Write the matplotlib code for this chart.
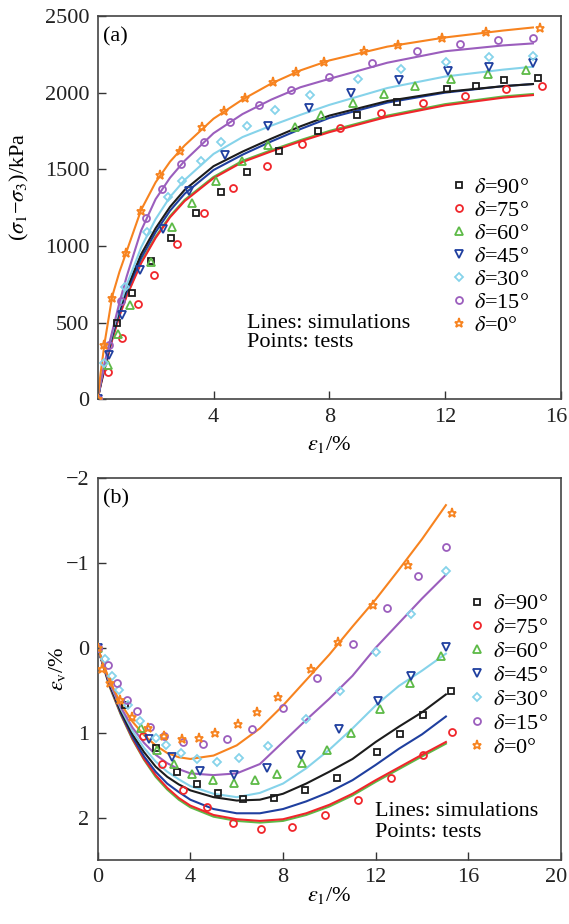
import matplotlib
matplotlib.use("Agg")
import matplotlib.pyplot as plt
import matplotlib.transforms as mtransforms

plt.rcParams['font.family'] = ['Liberation Serif', 'DejaVu Serif']
plt.rcParams['mathtext.fontset'] = 'stix'
plt.rcParams['axes.unicode_minus'] = True

legend_labels = [r'$\delta$=90°', r'$\delta$=75°', r'$\delta$=60°', r'$\delta$=45°',
                 r'$\delta$=30°', r'$\delta$=15°', r'$\delta$=0°']
colors = ['#1c1c1c', '#f0262b', '#5dba47', '#1f3f9f', '#86d3ea', '#9b5ebd', '#f7831f']
markers = ['s', 'o', '^', 'v', 'D', 'o', '*']
msizes = [4.2, 5.0, 5.2, 5.2, 4.2, 5.0, 6.5]

# ---- (a) deviatoric stress: tests ----
x90_a = [0, 0.68, 1.18, 1.83, 2.52, 3.39, 4.25, 5.17, 6.27, 7.62, 8.94, 10.32, 12.05, 13.06, 14.03, 15.21]
y90_a = [0, 494, 690, 900, 1051, 1212, 1353, 1484, 1618, 1751, 1854, 1941, 2021, 2045, 2082, 2097]
x75_a = [0, 0.37, 0.83, 1.38, 1.95, 2.73, 3.68, 4.68, 5.83, 7.04, 8.37, 9.8, 11.22, 12.68, 14.09, 15.33]
y75_a = [0, 180, 402, 620, 811, 1012, 1214, 1375, 1523, 1662, 1771, 1864, 1934, 1980, 2021, 2043]
x60_a = [0, 0.34, 0.69, 1.11, 1.83, 2.55, 3.27, 4.07, 4.97, 5.89, 6.81, 7.72, 8.8, 9.89, 10.94, 12.2, 13.49, 14.8]
y60_a = [0, 222, 424, 616, 898, 1125, 1283, 1425, 1555, 1658, 1777, 1857, 1934, 1991, 2041, 2087, 2121, 2147]
x45_a = [0, 0.38, 0.84, 1.45, 2.24, 3.15, 4.41, 5.87, 7.31, 8.75, 10.42, 12.1, 13.51, 15.04]
y45_a = [0, 288, 552, 842, 1107, 1360, 1595, 1780, 1901, 1999, 2082, 2143, 2169, 2191]
x30_a = [0, 0.23, 0.95, 1.7, 2.44, 2.92, 3.57, 4.25, 5.14, 6.12, 7.33, 9.0, 10.47, 12.03, 13.51, 15.02]
y30_a = [0, 239, 733, 1090, 1316, 1422, 1555, 1675, 1779, 1884, 1984, 2089, 2151, 2202, 2230, 2241]
x15_a = [0, 0.4, 0.8, 1.66, 2.21, 2.88, 3.67, 4.57, 5.58, 6.66, 8.0, 9.46, 11.04, 12.51, 13.81, 15.02]
y15_a = [0, 354, 640, 1179, 1373, 1534, 1681, 1806, 1919, 2017, 2104, 2195, 2271, 2315, 2343, 2354]
x0_a = [0, 0.23, 0.5, 0.98, 1.48, 2.15, 2.84, 3.6, 4.36, 5.09, 6.06, 6.85, 7.83, 9.2, 10.38, 11.9, 13.4, 15.27]
y0_a = [0, 352, 663, 953, 1229, 1462, 1621, 1773, 1882, 1968, 2071, 2136, 2202, 2271, 2311, 2354, 2398, 2419]

# ---- (a) simulations ----
sim_x_a = [0, 0.1, 0.25, 0.5, 0.75, 1, 1.5, 2, 2.5, 3, 4, 5, 6, 7, 8, 10, 12, 14, 15.03]
sim90_a = [0, 100, 225, 420, 580, 720, 945, 1115, 1255, 1365, 1520, 1615, 1700, 1780, 1850, 1945, 2005, 2042, 2056]
sim75_a = [0, 88, 203, 387, 542, 672, 887, 1052, 1187, 1292, 1442, 1547, 1617, 1682, 1742, 1842, 1917, 1967, 1984]
sim60_a = [0, 92, 210, 395, 550, 680, 895, 1060, 1195, 1300, 1450, 1555, 1625, 1690, 1750, 1850, 1925, 1975, 1991]
sim45_a = [0, 95, 215, 405, 565, 700, 920, 1090, 1230, 1340, 1495, 1595, 1682, 1762, 1835, 1935, 2000, 2042, 2056]
sim30_a = [0, 110, 240, 430, 600, 745, 990, 1175, 1320, 1430, 1600, 1710, 1785, 1855, 1920, 2030, 2105, 2150, 2169]
sim15_a = [0, 110, 245, 440, 630, 800, 1100, 1305, 1445, 1555, 1735, 1860, 1955, 2035, 2090, 2195, 2270, 2308, 2321]
sim0_a = [0, 170, 380, 670, 830, 965, 1235, 1415, 1550, 1655, 1830, 1955, 2060, 2145, 2210, 2300, 2360, 2405, 2425]

# ---- (b) volumetric strain: tests ----
x90_b = [0, 1.18, 2.52, 3.41, 4.27, 5.2, 6.28, 7.61, 8.95, 10.34, 12.04, 13.05, 14.03, 15.23]
y90_b = [0, 0.68, 1.18, 1.46, 1.61, 1.71, 1.78, 1.77, 1.68, 1.53, 1.23, 1.02, 0.79, 0.51]
x75_b = [0, 1.97, 2.76, 3.7, 4.7, 5.85, 7.05, 8.39, 9.81, 11.25, 12.66, 14.06, 15.3]
y75_b = [0, 1.04, 1.37, 1.67, 1.88, 2.06, 2.14, 2.11, 1.97, 1.79, 1.54, 1.26, 0.99]
x60_b = [0, 1.87, 2.54, 3.29, 4.08, 4.96, 5.9, 6.79, 7.72, 8.8, 9.88, 10.93, 12.18, 13.48, 14.8]
y60_b = [0, 0.95, 1.2, 1.37, 1.49, 1.56, 1.59, 1.56, 1.49, 1.36, 1.2, 1.0, 0.72, 0.42, 0.1]
x45_b = [0, 2.22, 3.19, 4.42, 5.9, 7.32, 8.78, 10.43, 12.11, 13.52, 15.03]
y45_b = [0, 1.07, 1.29, 1.45, 1.5, 1.42, 1.26, 0.96, 0.63, 0.33, -0.01]
x30_b = [0, 0.32, 0.6, 0.92, 1.32, 1.83, 2.5, 2.95, 3.6, 4.3, 5.13, 6.1, 7.36, 8.99, 10.46, 12.01, 13.52, 15.02]
y30_b = [0, 0.13, 0.33, 0.5, 0.68, 0.86, 1.06, 1.15, 1.24, 1.31, 1.35, 1.3, 1.16, 0.84, 0.51, 0.05, -0.4, -0.9]
x15_b = [0, 0.43, 0.82, 1.25, 1.68, 2.26, 2.88, 3.7, 4.56, 5.59, 6.67, 8.0, 9.45, 11.0, 12.5, 13.81, 15.02]
y15_b = [0, 0.2, 0.41, 0.61, 0.75, 0.93, 1.04, 1.11, 1.13, 1.08, 0.96, 0.71, 0.36, -0.05, -0.47, -0.85, -1.19]
x0_b = [0, 0.2, 0.55, 0.96, 1.49, 2.16, 2.88, 3.65, 4.37, 5.06, 6.07, 6.86, 7.8, 9.21, 10.39, 11.9, 13.38, 15.28]
y0_b = [0, 0.25, 0.42, 0.61, 0.82, 0.95, 1.04, 1.08, 1.06, 1.01, 0.9, 0.76, 0.58, 0.25, -0.07, -0.5, -0.97, -1.59]

# ---- (b) simulations ----
sim_x_b = [0, 0.5, 1, 1.5, 2, 2.5, 3, 3.5, 4, 5, 6, 7, 8, 9, 10, 11, 12, 13, 14, 15.03]
sim90_b = [0, 0.42, 0.75, 1.02, 1.23, 1.4, 1.52, 1.61, 1.68, 1.76, 1.8, 1.79, 1.72, 1.6, 1.46, 1.31, 1.11, 0.93, 0.76, 0.55]
sim75_b = [0, 0.44, 0.78, 1.07, 1.31, 1.5, 1.65, 1.77, 1.86, 1.97, 2.02, 2.04, 2.02, 1.95, 1.85, 1.72, 1.56, 1.41, 1.26, 1.11]
sim60_b = [0, 0.45, 0.79, 1.08, 1.32, 1.52, 1.67, 1.79, 1.88, 1.99, 2.04, 2.06, 2.04, 1.97, 1.87, 1.74, 1.58, 1.43, 1.28, 1.13]
sim45_b = [0, 0.43, 0.77, 1.05, 1.28, 1.46, 1.6, 1.7, 1.79, 1.9, 1.95, 1.95, 1.9, 1.81, 1.7, 1.56, 1.38, 1.19, 1.02, 0.81]
sim30_b = [0, 0.4, 0.72, 0.98, 1.18, 1.34, 1.46, 1.55, 1.63, 1.72, 1.76, 1.71, 1.6, 1.42, 1.2, 0.95, 0.68, 0.45, 0.27, 0.07]
sim15_b = [0, 0.4, 0.7, 0.94, 1.12, 1.26, 1.36, 1.43, 1.48, 1.5, 1.48, 1.37, 1.11, 0.85, 0.6, 0.33, 0.0, -0.29, -0.58, -0.86]
sim0_b = [0, 0.38, 0.66, 0.87, 1.03, 1.15, 1.24, 1.29, 1.31, 1.27, 1.15, 0.95, 0.68, 0.38, 0.08, -0.25, -0.57, -0.92, -1.28, -1.68]

tests_a = [(x90_a, y90_a), (x75_a, y75_a), (x60_a, y60_a), (x45_a, y45_a),
           (x30_a, y30_a), (x15_a, y15_a), (x0_a, y0_a)]
sims_a = [sim90_a, sim75_a, sim60_a, sim45_a, sim30_a, sim15_a, sim0_a]
tests_b = [(x90_b, y90_b), (x75_b, y75_b), (x60_b, y60_b), (x45_b, y45_b),
           (x30_b, y30_b), (x15_b, y15_b), (x0_b, y0_b)]
sims_b = [sim90_b, sim75_b, sim60_b, sim45_b, sim30_b, sim15_b, sim0_b]

fs = 16
fig = plt.figure(figsize=(5.69, 9.24), dpi=100)
ax1 = fig.add_axes([0.1717, 0.568, 0.8143, 0.4147])
ax2 = fig.add_axes([0.1717, 0.0693, 0.8143, 0.4134])


def draw(ax, sim_x, sims, tests):
    # simulation lines first, test points on top
    line_order = [2, 1, 3, 0, 4, 5, 6]
    for i in line_order:
        ax.plot(sim_x, sims[i], color=colors[i], lw=1.5, zorder=2)
    for i, (xs, ys) in enumerate(tests):
        ax.plot(xs, ys, ls='none', marker=markers[i], ms=msizes[i], mfc='none',
                mec=colors[i], mew=1.3, label=legend_labels[i], zorder=3)


def style(ax):
    ax.tick_params(direction='in', length=6, width=1.0, labelsize=fs, pad=6,
                   colors='#333333', labelcolor='#222222')
    for s in ax.spines.values():
        s.set_color('#444444')
        s.set_linewidth(1.2)


def nudge_last_xlabel(ax):
    # keep the right-most tick label inside the canvas
    lab = ax.get_xticklabels()[-1]
    off = mtransforms.ScaledTranslation(-5 / 100, 0, fig.dpi_scale_trans)
    lab.set_transform(lab.get_transform() + off)


draw(ax1, sim_x_a, sims_a, tests_a)
style(ax1)
ax1.set_xlim(0, 16)
ax1.set_ylim(0, 2500)
ax1.set_xticks([4, 8, 12, 16])
ax1.set_yticks([0, 500, 1000, 1500, 2000, 2500])
ax1.set_xlabel(r'$\varepsilon_1$/%', fontsize=fs)
ax1.xaxis.set_label_coords(0.5, -0.09)
ax1.set_ylabel('($\\sigma_1$−$\\sigma_3$)/kPa', fontsize=fs)
ax1.yaxis.set_label_coords(-0.145, 0.553)
ax1.text(0.012, 0.945, '(a)', transform=ax1.transAxes, fontsize=fs, va='center')
ax1.text(0.322, 0.172, 'Lines: simulations\nPoints: tests', transform=ax1.transAxes,
         fontsize=fs, va='center', ha='left', linespacing=1.0)
ax1.legend(loc='upper left', bbox_to_anchor=(0.76, 0.578), frameon=False, fontsize=fs,
           handlelength=0.8, handletextpad=0.3, labelspacing=0.11, borderpad=0,
           borderaxespad=0)

draw(ax2, sim_x_b, sims_b, tests_b)
style(ax2)
ax2.set_xlim(0, 20)
ax2.set_ylim(2.5, -2)
ax2.set_xticks([0, 4, 8, 12, 16, 20])
ax2.set_yticks([-2, -1, 0, 1, 2])
ax2.set_xlabel(r'$\varepsilon_1$/%', fontsize=fs)
ax2.xaxis.set_label_coords(0.5, -0.065)
ax2.set_ylabel(r'$\varepsilon_\mathrm{v}$/%', fontsize=fs)
ax2.yaxis.set_label_coords(-0.064, 0.5)
ax2.text(0.012, 0.945, '(b)', transform=ax2.transAxes, fontsize=fs, va='center')
ax2.text(0.599, 0.1, 'Lines: simulations\nPoints: tests', transform=ax2.transAxes,
         fontsize=fs, va='center', ha='left', linespacing=1.12)
ax2.legend(loc='upper left', bbox_to_anchor=(0.80, 0.697), frameon=False, fontsize=fs,
           handlelength=0.8, handletextpad=0.3, labelspacing=0.15, borderpad=0,
           borderaxespad=0)

nudge_last_xlabel(ax1)
nudge_last_xlabel(ax2)

fig.savefig('out.png', dpi=100)
